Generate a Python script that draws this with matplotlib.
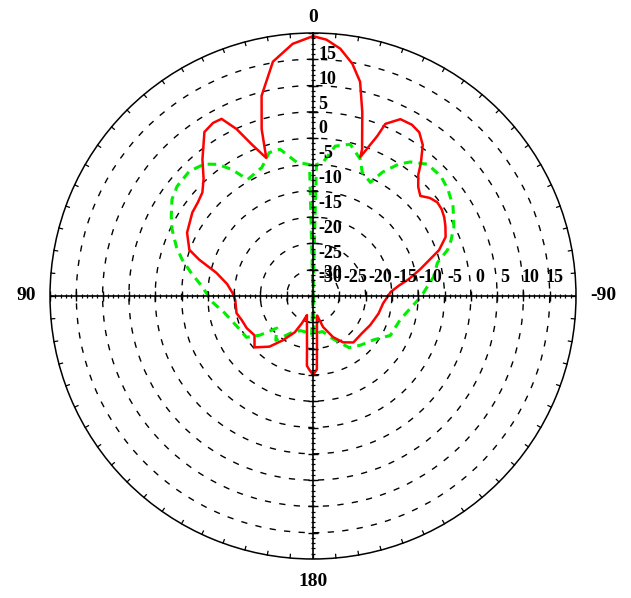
import numpy as np
import matplotlib
matplotlib.use("Agg")
import matplotlib.pyplot as plt

# ---------------- data (angle in degrees, CCW from top; value in dB) -------------
red_theta = [-180, -177, -175.8, -173.3, -170, -168, -162, -154, -147, -139, -127,
             -117, -105, -96, -87, -83, -80, -76, -73, -70, -66, -62, -59, -56,
             -53, -50, -47, -44, -41, -39, -36, -33, -30, -26.3, -22.8, -21.9,
             -18.8, -18.5, -15, -12.4, -9.6, -6.3, -3, 0, 4.6, 9.7, 14.4, 17.1,
             18.7, 22, 24.6, 27.3, 30, 33.5, 39, 43, 46.9, 51, 55.3, 63.3, 69.5,
             72.3, 76.5, 82, 87.9, 93, 102.6, 108.7, 115.9, 123.9, 131.3, 139.3,
             145.7, 153.4, 157.8, 162.5, 164, 170, 173.7, 175, 177, 180]
red_db = [-20.0, -21.0, -24.7, -28.5, -30.7, -31.2, -28.8, -26.3, -24.5, -23.3,
          -23.3, -22.8, -22.1, -21.6, -20.2, -18.5, -16.5, -14.0, -12.0, -9.5,
          -7.4, -6.5, -5.9, -5.5, -5.4, -6.0, -7.1, -6.2, -4.5, -2.4, 0.5, 2.1,
          2.6, 2.5, 0.5, -2.2, -7.1, -5.6, 1.2, 6.7, 9.8, 12.3, 13.8, 14.4, 13.1,
          10.2, 4.3, -1.8, -7.3, -3.9, -0.1, 2.9, 3.0, 2.4, -1.6, -4.5, -6.2,
          -6.8, -7.1, -8.2, -9.9, -12.3, -16.1, -18.5, -19.7, -20.2, -20.1,
          -20.7, -21.0, -21.6, -20.2, -22.3, -24.8, -27.3, -29.4, -31.2, -30.8,
          -28.4, -24.6, -21.7, -21.0, -20.0]

green_theta = [-180, -178, -170, -165, -155, -145, -136, -126, -117, -105, -97,
               -90.5, -81, -75, -71, -68, -64, -57.4, -51.7, -46.9, -41, -36, -33,
               -29.3, -26.8, -21.7, -19.1, -13.8, -8.4, -4.3, -1.5, 0, 1.5, 6.9,
               12.7, 17, 21.7, 29.3, 32.7, 35.9, 39.5, 44.8, 51.1, 55.6, 60.7,
               64.8, 70.2, 74.5, 79.2, 85.3, 93.4, 100.9, 112.5, 121.8, 126.3,
               131.6, 140, 150, 160, 170, 178, 180]
green_db = [-35.0, -27.5, -28.0, -28.0, -26.0, -23.0, -22.0, -20.8, -18.5, -17.8,
            -16.3, -14.5, -11.8, -10.5, -7.9, -6.7, -5.2, -3.4, -2.3, -1.7, -1.8,
            -3.5, -5.1, -8.0, -10.8, -9.7, -7.5, -5.3, -6.2, -9.5, -10.0, -35.0,
            -10.0, -9.4, -6.4, -6.5, -8.7, -9.6, -6.4, -4.1, -2.5, -1.6, -1.8,
            -2.5, -4.1, -5.4, -7.4, -9.2, -11.4, -13.9, -15.8, -17.9, -19.5,
            -20.1, -22.4, -25.8, -24.0, -27.0, -28.0, -28.0, -27.5, -35.0]

r_min, r_max, r_step = -35, 15, 5
radial_labels = ["-30", "-25", "-20", "-15", "-10", "-5", "0", "5", "10", "15"]
radial_values = [-30, -25, -20, -15, -10, -5, 0, 5, 10, 15]
angle_labels = ["0", "90", "180", "-90"]

# ---------------- figure ----------------
W, H = 631, 598
fig = plt.figure(figsize=(W / 100, H / 100), dpi=100)
cx, cy, R = 313, 296, 263
rect = [(cx - R) / W, (H - cy - R) / H, 2 * R / W, 2 * R / H]

ax = fig.add_axes(rect, projection="polar")
ax.set_theta_zero_location("N")
ax.set_theta_direction(1)
ax.set_rlim(r_min, r_max)
ax.set_rticks(np.arange(r_min + r_step, r_max, r_step))
ax.set_xticks([])
ax.set_yticklabels([])
ax.xaxis.grid(False)
ax.yaxis.grid(True, color="black", linestyle=(0, (4.5, 6)), linewidth=1.0)
ax.spines["polar"].set_color("black")
ax.spines["polar"].set_linewidth(1.1)
ax.tick_params(axis="y", length=0)

ax.plot(np.radians(red_theta), red_db, color="#ff0000", lw=1.8, zorder=5)
ax.plot(np.radians(green_theta), green_db, color="#00ee00", lw=2.2,
        linestyle=(0, (2.8, 2.0)), zorder=4)

# ---------------- cartesian overlay (crosshair, ticks, labels) ----------------
ov = fig.add_axes(rect, facecolor="none")
span = r_max - r_min
ov.set_xlim(-span, span)
ov.set_ylim(-span, span)
ov.axis("off")
ov.plot([-span, span], [0, 0], color="black", lw=1.2)
ov.plot([0, 0], [-span, span], color="black", lw=1.2)

minor = np.arange(-span, span + 0.01, 1.0)
major = np.arange(-span, span + 0.01, r_step)
ov.vlines(minor, -0.45, 0.45, color="black", lw=0.9)
ov.hlines(minor, -0.45, 0.45, color="black", lw=0.9)
ov.vlines(major, -0.9, 0.9, color="black", lw=1.0)
ov.hlines(major, -0.9, 0.9, color="black", lw=1.0)

# ticks around the outer circle every 5 degrees
for a in np.radians(np.arange(0, 360, 5)):
    ov.plot([span * np.cos(a), (span - 0.7) * np.cos(a)],
            [span * np.sin(a), (span - 0.7) * np.sin(a)], color="black", lw=0.9)

fnt = dict(family="Liberation Serif", weight="bold")
for lab, v in zip(radial_labels, radial_values):
    d = v - r_min
    p = 0.95 * d - 1.5
    ov.text(1.0, p + (1.0 if v == -30 else 0), lab, ha="left", va="center",
            fontsize=13, **fnt)
    ov.text(p, 3.6, lab, ha="center", va="center", fontsize=13, **fnt)

ov.text(0, span * 1.06, angle_labels[0], ha="center", va="center", fontsize=14, **fnt)
ov.text(-span * 1.09, 0, angle_labels[1], ha="center", va="center", fontsize=14, **fnt)
ov.text(0, -span * 1.085, angle_labels[2], ha="center", va="center", fontsize=14, **fnt)
ov.text(span * 1.105, 0, angle_labels[3], ha="center", va="center", fontsize=14, **fnt)

fig.savefig("out.png", dpi=100, facecolor="white")
